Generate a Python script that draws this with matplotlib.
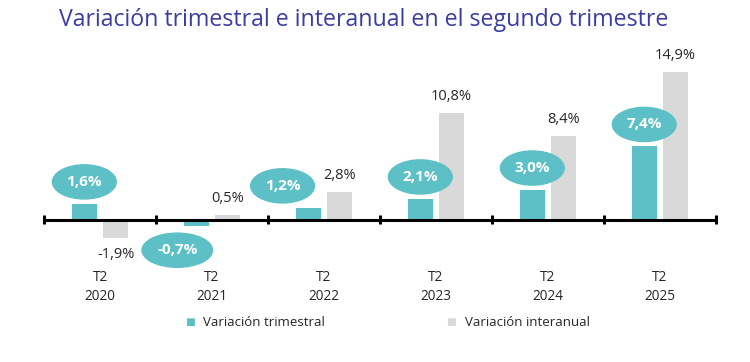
import matplotlib.pyplot as plt
from matplotlib.patches import Ellipse

# Data
years = ['2020', '2021', '2022', '2023', '2024', '2025']
quarter = 'T2'
trimestral = [1.6, -0.7, 1.2, 2.1, 3.0, 7.4]
interanual = [-1.9, 0.5, 2.8, 10.8, 8.4, 14.9]
series_names = ['Variación trimestral', 'Variación interanual']

# small horizontal nudges for the bubbles (category units)
bubble_dx = [0.0, -0.17, -0.23, 0.0, 0.0, 0.0]

TEAL = '#5ec0c7'
GREY = '#d9d9d9'
TITLE = '#3b3da3'
TEXT = '#262626'

plt.rcParams['font.family'] = ['Open Sans', 'DejaVu Sans']

fig = plt.figure(figsize=(7.5, 3.62), dpi=100)
ax = fig.add_axes([0, 0, 1, 1])
ax.set_xlim(-0.893, 5.804)
ax.set_ylim(-14.39, 22.17)
ax.axis('off')

x = list(range(len(years)))
off = 0.14
w = 0.225

ax.bar([i - off for i in x], trimestral, width=w, color=TEAL, zorder=2)
ax.bar([i + off for i in x], interanual, width=w, color=GREY, zorder=2)

# baseline with small ticks between the groups
ax.hlines(0, -0.5, len(years) - 0.5, color='black', lw=2.2, zorder=3)
ax.vlines([i - 0.5 for i in range(len(years) + 1)], -0.5, 0.5,
          color='black', lw=2.2, zorder=3)


def fmt(v):
    return f'{v:.1f}%'.replace('.', ',')


# grey bar labels
for i, v in enumerate(interanual):
    if v >= 0:
        ax.text(i + off, v + 0.9, fmt(v), ha='center', va='bottom',
                fontsize=10.5, color=TEXT)
    else:
        ax.text(i + off, v - 0.9, fmt(v), ha='center', va='top',
                fontsize=10.5, color=TEXT)

# teal bubbles
for i, v in enumerate(trimestral):
    cy = v + 2.2 if v >= 0 else v - 2.4
    cx = i - off + bubble_dx[i]
    ew = 0.57 if v >= 0 else 0.63
    ax.add_patch(Ellipse((cx, cy), ew, 3.45, color=TEAL, zorder=4))
    ax.text(cx, cy, fmt(v), ha='center', va='center', fontsize=11,
            fontweight='bold', color='white', zorder=5)

# category labels
for i, yr in enumerate(years):
    ax.text(i, -6.8, quarter + '\n' + yr, ha='center', va='center',
            fontsize=9.8, color=TEXT, linespacing=1.4)

# legend
ly = 1 - 323 / 362
fig.text(185 / 750, ly, '\u25a0', color=TEAL, fontsize=7.5,
         ha='left', va='center')
fig.text(203 / 750, ly, series_names[0], color=TEXT, fontsize=9.5,
         ha='left', va='center')
fig.text(446 / 750, ly, '\u25a0', color=GREY, fontsize=7.5,
         ha='left', va='center')
fig.text(465 / 750, ly, series_names[1], color=TEXT, fontsize=9.5,
         ha='left', va='center')

fig.text(364 / 750, 1 - 20 / 362,
         'Variación trimestral e interanual en el segundo trimestre',
         ha='center', va='center', fontsize=16.7, color=TITLE)

fig.savefig('out.png', dpi=100, facecolor='white')
